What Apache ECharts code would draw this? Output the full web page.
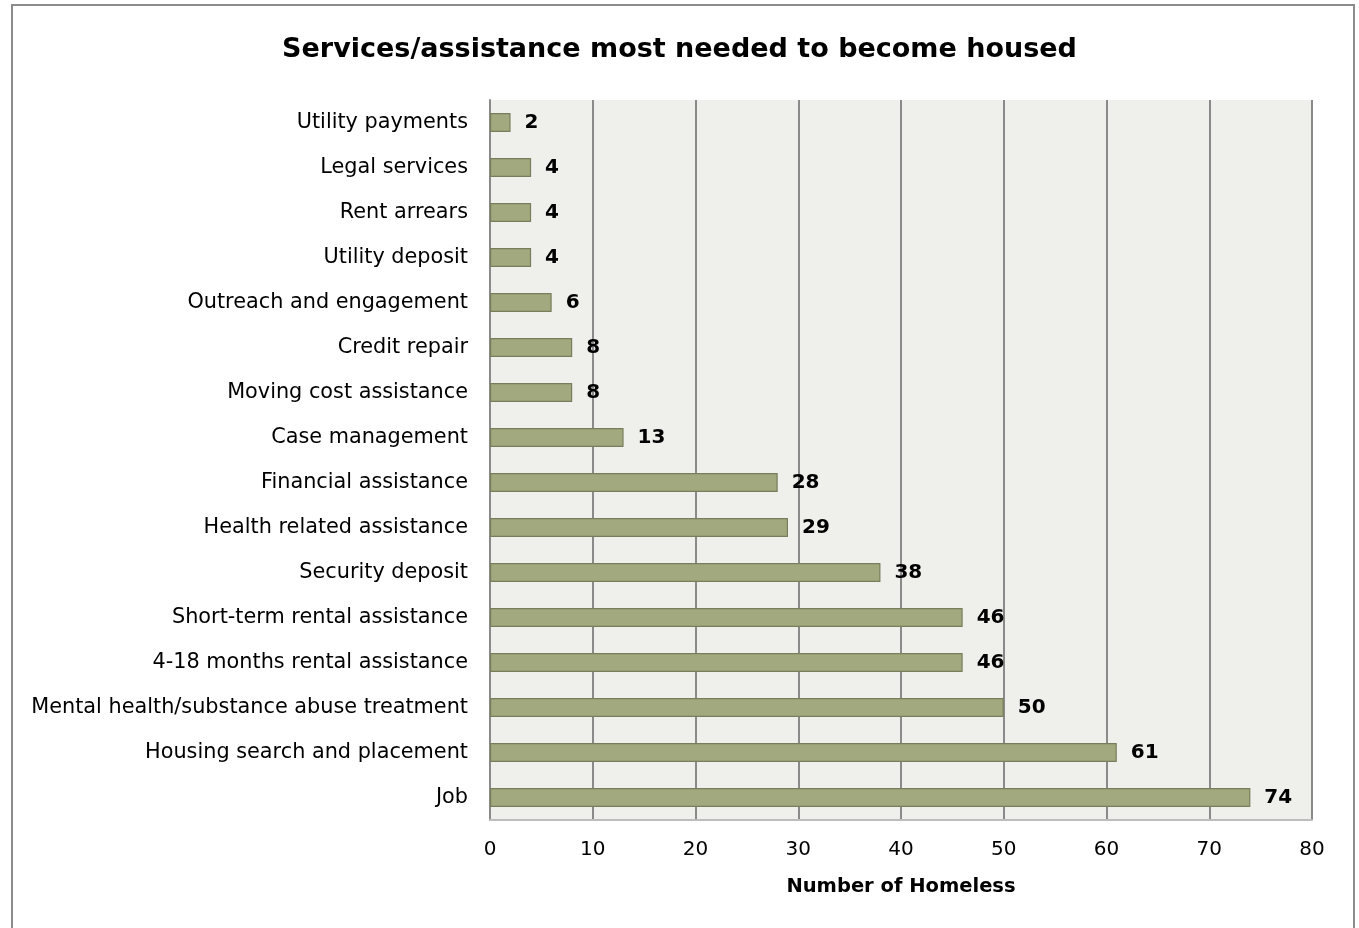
<!DOCTYPE html>
<html><head><meta charset="utf-8">
<script src="https://cdn.jsdelivr.net/npm/echarts@6/dist/echarts.min.js"></script>
<style>html,body{margin:0;padding:0;background:#fff}#c{width:1359px;height:928px}</style>
</head><body><div id="c"></div>
<script>
const categories = ["Utility payments","Legal services","Rent arrears","Utility deposit","Outreach and engagement","Credit repair","Moving cost assistance","Case management","Financial assistance","Health related assistance","Security deposit","Short-term rental assistance","4-18 months rental assistance","Mental health/substance abuse treatment","Housing search and placement","Job"];
const values = [2,4,4,4,6,8,8,13,28,29,38,46,46,50,61,74];
const xTicks = [0,10,20,30,40,50,60,70,80];
const titleText = "Services/assistance most needed to become housed";
const xAxisName = "Number of Homeless";

const FONT = "DejaVu Sans";
const chart = echarts.init(document.getElementById('c'));
chart.setOption({
  animation:false,
  textStyle:{fontFamily:FONT},
  title:{text:titleText,left:'center',top:31,textStyle:{fontFamily:FONT,fontWeight:'bold',fontSize:27,color:'#000'}},
  graphic:[{type:'rect',shape:{x:12,y:5,width:1342,height:940},style:{fill:'none',stroke:'#8c8c8c',lineWidth:2},z:-10}],
  grid:{left:490,right:47,top:100,bottom:108,show:true,backgroundColor:'#efefeb',borderWidth:0},
  xAxis:{type:'value',min:xTicks[0],max:xTicks[xTicks.length-1],interval:10,
    name:xAxisName,nameLocation:'middle',nameGap:57,
    nameTextStyle:{fontFamily:FONT,fontWeight:'bold',fontSize:19.5,color:'#000'},
    axisLine:{show:true,lineStyle:{color:'#bdbdbd',width:2}},axisTick:{show:false},
    axisLabel:{fontSize:20,color:'#000',margin:20,fontFamily:FONT},
    splitLine:{show:true,lineStyle:{color:'#8a8a8a',width:2}}},
  yAxis:{type:'category',data:categories,inverse:true,
    axisLine:{show:true,lineStyle:{color:'#8a8a8a',width:2}},axisTick:{show:false},
    axisLabel:{fontSize:20.8,color:'#000',margin:22,fontFamily:FONT}},
  series:[{type:'bar',data:values,barWidth:19,
    itemStyle:{color:'#a3a97e',borderColor:'#787d5b',borderWidth:1.2},
    label:{show:true,position:'right',distance:14,fontWeight:'bold',fontSize:20,color:'#000',fontFamily:FONT}}]
});
</script></body></html>
